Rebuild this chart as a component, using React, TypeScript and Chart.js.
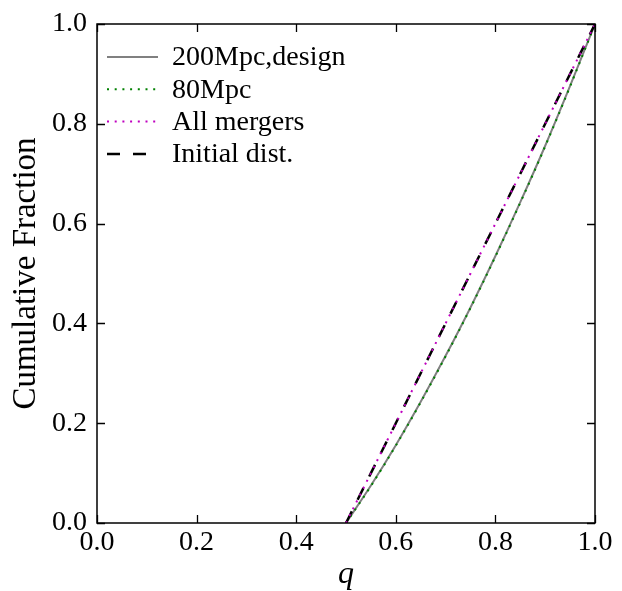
import React, { useEffect, useRef } from "react";
import { Chart, registerables } from "chart.js";

Chart.register(...registerables);

// ---- data ----
const qValues = [0.5, 0.55, 0.6, 0.65, 0.7, 0.75, 0.8, 0.85, 0.9, 0.95, 1.0];
const cdf200Mpc = [0, 0.075, 0.156, 0.243, 0.335, 0.432, 0.535, 0.643, 0.756, 0.876, 1.0];
const cdf80Mpc = [0, 0.074, 0.155, 0.242, 0.334, 0.431, 0.534, 0.642, 0.755, 0.875, 1.0];
const cdfAllMergers = [0, 0.1, 0.2, 0.3, 0.4, 0.5, 0.6, 0.7, 0.8, 0.9, 1.0];
const cdfInitial = [0, 0.1, 0.2, 0.3, 0.4, 0.5, 0.6, 0.7, 0.8, 0.9, 1.0];
const tickValues = [0, 0.2, 0.4, 0.6, 0.8, 1.0];
const seriesLabels = ["200Mpc,design", "80Mpc", "All mergers", "Initial dist."];
const xTitle = "q";
const yTitle = "Cumulative Fraction";

const FONT = '"Liberation Serif", "Times New Roman", serif';

const seriesStyles = [
  { color: "#808080", width: 2, dash: [] as number[] },
  { color: "#008000", width: 2, dash: [2, 5.7] },
  { color: "#bf00bf", width: 2, dash: [2, 5.7] },
  { color: "#000000", width: 2.5, dash: [13, 13] },
];

const toPoints = (ys: number[]) => qValues.map((q, i) => ({ x: q, y: ys[i] }));

const framePlugin = {
  id: "frameAndLegend",
  afterDatasetsDraw(chart: any) {
    const { ctx, chartArea, scales } = chart;
    const { left, right, top, bottom } = chartArea;
    const x = scales.x;
    const y = scales.y;
    ctx.save();
    ctx.setLineDash([]);
    ctx.strokeStyle = "#000";
    ctx.lineWidth = 1.5;
    ctx.strokeRect(left, top, right - left, bottom - top);
    ctx.lineWidth = 1.3;
    const L = 8;
    tickValues.forEach((v) => {
      const px = Math.round(x.getPixelForValue(v)) + 0.5;
      ctx.beginPath();
      ctx.moveTo(px, bottom);
      ctx.lineTo(px, bottom - L);
      ctx.moveTo(px, top);
      ctx.lineTo(px, top + L);
      ctx.stroke();
      const py = Math.round(y.getPixelForValue(v)) + 0.5;
      ctx.beginPath();
      ctx.moveTo(left, py);
      ctx.lineTo(left + L, py);
      ctx.moveTo(right, py);
      ctx.lineTo(right - L, py);
      ctx.stroke();
    });

    // legend
    const lx0 = left + 10;
    const lx1 = left + 61;
    const tx = left + 75;
    const y0 = top + 33;
    const dy = 32.3;
    ctx.font = `28px ${FONT}`;
    ctx.textBaseline = "middle";
    ctx.textAlign = "left";
    seriesLabels.forEach((lab, i) => {
      const st = seriesStyles[i];
      const yy = y0 + i * dy;
      ctx.strokeStyle = st.color;
      ctx.lineWidth = st.width;
      ctx.setLineDash(st.dash);
      ctx.beginPath();
      ctx.moveTo(lx0, yy);
      ctx.lineTo(lx1, yy);
      ctx.stroke();
      ctx.setLineDash([]);
      ctx.fillStyle = "#000";
      ctx.fillText(lab, tx, yy + 1);
    });
    ctx.restore();
  },
};

export default function App() {
  const ref = useRef<HTMLCanvasElement>(null);
  useEffect(() => {
    if (!ref.current) return;
    const seriesData = [cdf200Mpc, cdf80Mpc, cdfAllMergers, cdfInitial];
    const orders = [4, 3, 1, 2];
    const chart = new Chart(ref.current, {
      type: "line",
      data: {
        datasets: seriesData.map((ys, i) => ({
          label: seriesLabels[i],
          data: toPoints(ys),
          borderColor: seriesStyles[i].color,
          borderWidth: seriesStyles[i].width,
          borderDash: seriesStyles[i].dash,
          pointRadius: 0,
          fill: false,
          cubicInterpolationMode: "monotone" as const,
          order: orders[i],
        })),
      },
      options: {
        animation: false,
        responsive: false,
        devicePixelRatio: 1,
        layout: { padding: { top: 24, right: 27, left: 0, bottom: 0 } },
        plugins: { legend: { display: false }, tooltip: { enabled: false } },
        scales: {
          x: {
            type: "linear",
            min: 0,
            max: 1,
            grid: { display: false, drawTicks: false },
            border: { display: false },
            afterFit: (s: any) => {
              s.height = 68;
            },
            afterBuildTicks: (s: any) => {
              s.ticks = tickValues.map((v) => ({ value: v }));
            },
            ticks: {
              padding: 3,
              color: "#000",
              font: { family: FONT, size: 28 },
              maxRotation: 0,
              callback: (v: any) => Number(v).toFixed(1),
            },
            title: {
              display: true,
              text: xTitle,
              color: "#000",
              font: { family: FONT, size: 32, style: "italic", lineHeight: 1.0 },
              padding: { top: 0, bottom: 0 },
            },
          },
          y: {
            type: "linear",
            min: 0,
            max: 1,
            grid: { display: false, drawTicks: false },
            border: { display: false },
            afterFit: (s: any) => {
              s.width = 97;
            },
            afterBuildTicks: (s: any) => {
              s.ticks = tickValues.map((v) => ({ value: v }));
            },
            ticks: {
              padding: 10,
              color: "#000",
              font: { family: FONT, size: 28, lineHeight: 1.0 },
              callback: (v: any) => Number(v).toFixed(1),
            },
            title: {
              display: true,
              text: yTitle,
              color: "#000",
              font: { family: FONT, size: 33, lineHeight: 1.0 },
              padding: { top: 10, bottom: 0 },
            },
          },
        },
      },
      plugins: [framePlugin],
    });
    return () => chart.destroy();
  }, []);
  return (
    <div style={{ position: "fixed", left: 0, top: 0, width: 622, height: 591, background: "#fff" }}>
      <canvas ref={ref} width={622} height={591} style={{ width: 622, height: 591, display: "block" }} />
    </div>
  );
}
